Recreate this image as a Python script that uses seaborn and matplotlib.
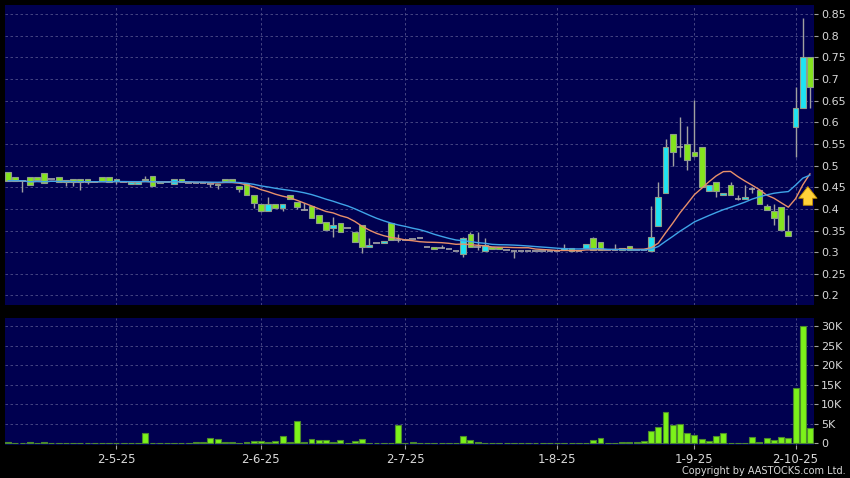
import matplotlib
matplotlib.use('Agg')
import matplotlib.pyplot as plt
import numpy as np
import pandas as pd
import seaborn as sns

# daily OHLC (one entry per trading day, oldest first)
opens = [
    .486, .474, .465, .474, .474, .482, .470, .474, .466, .470,
    .470, .470, .462, .474, .474, .465, .462, .457, .457, .470,
    .476, .459, .461, .457, .470, .459, .459, .459, .457, .455,
    .470, .470, .453, .459, .432, .411, .396, .411, .401, .432,
    .416, .397, .406, .386, .370, .355, .368, .355, .347, .362,
    .311, .322, .322, .367, .327, .327, .330, .332, .313, .311,
    .309, .307, .303, .295, .342, .313, .303, .311, .311, .305,
    .303, .303, .303, .302, .302, .303, .303, .306, .310, .303,
    .310, .332, .324, .304, .305, .304, .314, .305, .305, .303,
    .361, .436, .572, .542, .551, .531, .542, .441, .461, .432,
    .455, .423, .423, .445, .443, .406, .396, .405, .350, .590,
    .632, .751]
highs = [
    .486, .474, .465, .474, .474, .482, .470, .474, .466, .470,
    .470, .470, .462, .474, .474, .470, .462, .461, .462, .475,
    .476, .461, .461, .470, .470, .459, .459, .459, .457, .458,
    .470, .470, .453, .459, .432, .411, .428, .411, .411, .432,
    .416, .413, .406, .386, .370, .382, .368, .355, .347, .362,
    .332, .322, .326, .367, .343, .327, .330, .332, .313, .311,
    .316, .307, .303, .336, .346, .347, .332, .311, .311, .305,
    .303, .303, .303, .302, .302, .303, .303, .320, .310, .303,
    .320, .334, .324, .304, .318, .309, .314, .305, .305, .406,
    .463, .561, .572, .613, .591, .651, .542, .455, .461, .436,
    .461, .432, .455, .451, .443, .411, .411, .405, .386, .682,
    .840, .751]
lows = [
    .465, .465, .440, .455, .467, .460, .470, .461, .453, .453,
    .444, .458, .462, .465, .461, .457, .462, .457, .457, .467,
    .453, .459, .461, .457, .461, .459, .459, .459, .450, .445,
    .465, .461, .440, .432, .401, .392, .396, .401, .395, .422,
    .400, .397, .380, .367, .351, .336, .347, .355, .324, .297,
    .311, .322, .322, .327, .324, .327, .330, .332, .313, .307,
    .309, .307, .303, .290, .313, .305, .303, .307, .307, .305,
    .286, .303, .303, .302, .302, .303, .303, .306, .303, .303,
    .310, .306, .306, .304, .305, .304, .306, .305, .305, .303,
    .361, .436, .499, .520, .491, .520, .451, .441, .427, .432,
    .432, .420, .423, .436, .411, .397, .363, .351, .337, .521,
    .632, .633]
closes = [
    .465, .465, .465, .455, .467, .460, .470, .461, .462, .461,
    .461, .461, .462, .465, .461, .470, .462, .461, .462, .467,
    .453, .461, .461, .470, .461, .459, .459, .459, .457, .458,
    .465, .461, .445, .432, .414, .396, .411, .401, .411, .422,
    .405, .397, .380, .367, .351, .362, .347, .355, .324, .311,
    .316, .322, .326, .327, .327, .327, .330, .332, .313, .307,
    .309, .307, .303, .332, .313, .313, .317, .307, .307, .305,
    .303, .303, .303, .302, .302, .303, .303, .310, .303, .303,
    .320, .306, .306, .304, .305, .309, .306, .305, .305, .336,
    .427, .542, .531, .542, .513, .523, .451, .455, .441, .436,
    .432, .423, .427, .445, .411, .397, .380, .351, .337, .633,
    .751, .681]
# volume in thousands of shares
volume_k = [
    .34, .17, .1, .34, .1, .34, .12, .12, .12, .12,
    .12, .12, .12, .12, .12, .12, .12, .12, .12, 2.6,
    .1, .1, .1, .1, .1, .1, .3, .3, 1.45, 1.2,
    .2, .2, .1, .4, .6, .6, .2, .5, 1.9, .25,
    5.7, .25, 1.1, .85, .75, .4, .85, .1, .6, 1.2,
    .15, .1, .1, .1, 4.6, .1, .35, .1, .1, .1,
    .1, .1, .1, 1.9, .75, .2, .1, .1, .1, .1,
    .1, .1, .1, .1, .1, .15, .1, .1, .1, .1,
    .1, .95, 1.3, .1, .15, .2, .2, .2, .6, 3.2,
    4.1, 7.9, 4.8, 4.9, 2.6, 2.0, 1.2, .6, 1.9, 2.7,
    .15, .1, .1, 1.5, .2, 1.45, .85, 1.6, 1.3, 14.1,
    30.1, 3.8]
date_labels = ['2-5-25', '2-6-25', '2-7-25', '1-8-25', '1-9-25', '2-10-25']
date_index = [15, 35, 55, 76, 95, 109]

df = pd.DataFrame({'open': opens, 'high': highs, 'low': lows,
                   'close': closes, 'vol': volume_k})
df['idx'] = np.arange(len(df))
df['ma10'] = df['close'].rolling(10, min_periods=1).mean()
df['ma20'] = df['close'].rolling(20, min_periods=1).mean()

navy = '#000050'
up_col = '#1EE4F2'
down_col = '#84E41E'
edge_col = '#8E9E8A'
txt_col = '#D8D8D8'
grid_col = '#50508A'

sns.set_theme(style='dark')
plt.rcParams['font.family'] = ['DejaVu Sans']

fig = plt.figure(figsize=(8.5, 4.78), dpi=100, facecolor='black')
ax = fig.add_axes([5 / 850, 1 - 305 / 478, 809 / 850, 300 / 478])
axv = fig.add_axes([5 / 850, 1 - 445 / 478, 809 / 850, 127 / 478], sharex=ax)

# price panel
up = df[df['close'] > df['open']]
down = df[df['close'] < df['open']]
flat = df[df['close'] == df['open']]

ax.vlines(df['idx'], df['low'], df['high'], color='#A0A0A0', lw=1, zorder=2)
ax.bar(up['idx'], up['close'] - up['open'], bottom=up['open'], width=0.8,
       color=up_col, edgecolor=edge_col, linewidth=0.8, zorder=3)
ax.bar(down['idx'], down['open'] - down['close'], bottom=down['close'], width=0.8,
       color=down_col, edgecolor=edge_col, linewidth=0.8, zorder=3)
ax.hlines(flat['close'], flat['idx'] - 0.45, flat['idx'] + 0.45,
          color='#A8A8A8', lw=1.2, zorder=3)

sns.lineplot(data=df, x='idx', y='ma10', ax=ax, color='#E8906A', lw=1, zorder=4)
sns.lineplot(data=df, x='idx', y='ma20', ax=ax, color='#3FA4E8', lw=1, zorder=4)

# signal arrow next to the last candles
ax.annotate('', xy=(len(df) - 1.3, 0.458), xytext=(len(df) - 1.3, 0.402),
            arrowprops=dict(arrowstyle='simple,head_width=1.1,head_length=0.7,tail_width=0.55',
                            fc='#FFD23A', ec='#C89400', lw=0.6), zorder=6)

ax.set_ylim(0.178, 0.871)
ax.set_yticks(np.arange(0.2, 0.851, 0.05))
ax.set_yticklabels(['%g' % round(v, 2) for v in np.arange(0.2, 0.851, 0.05)])

# volume panel
sns.barplot(data=df, x='idx', y='vol', native_scale=True, ax=axv, color='#7CF21A',
            saturation=1, width=0.82, edgecolor='#4C8A2C', linewidth=0.8, errorbar=None)
axv.set_ylim(-0.45, 32.1)
axv.set_yticks([0, 5, 10, 15, 20, 25, 30])
axv.set_yticklabels(['0', '5K', '10K', '15K', '20K', '25K', '30K'])

for a in (ax, axv):
    a.set_facecolor(navy)
    for s in a.spines.values():
        s.set_visible(False)
    a.set_xlabel('')
    a.set_ylabel('')
    a.yaxis.tick_right()
    a.tick_params(axis='y', which='both', right=True, left=False, length=3, width=0.8,
                  color='#A0A0A0', labelcolor=txt_col, labelsize=8, pad=2)
    a.grid(True, axis='both', color=grid_col, lw=0.6, ls=(0, (3, 3)))
    a.set_axisbelow(True)

ax.set_xlim(-0.42, len(df) - 0.45)
axv.set_xticks(date_index)
axv.set_xticklabels(date_labels)
ax.tick_params(axis='x', bottom=False, labelbottom=False)
axv.tick_params(axis='x', bottom=True, length=3, width=0.8, color='#A0A0A0',
                labelcolor=txt_col, labelsize=8.5, pad=3)

fig.text(0.995, 1 - 471 / 478, 'Copyright by AASTOCKS.com Ltd.', color=txt_col,
         fontsize=7, ha='right', va='center')

fig.savefig('out.png', dpi=100, facecolor='black')
